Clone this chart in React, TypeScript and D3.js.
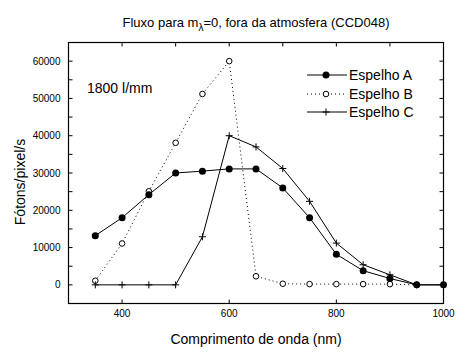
import { useEffect, useRef } from 'react';
import * as d3 from 'd3';

const wavelengths = [350, 400, 450, 500, 550, 600, 650, 700, 750, 800, 850, 900, 950, 1000];
const espelhoA = [13200, 18000, 24200, 30000, 30500, 31100, 31100, 26000, 18000, 8200, 3800, 1700, 0, 0];
const espelhoB = [1100, 11100, 25100, 38100, 51200, 60000, 2300, 300, 200, 200, 200, 200, 0];
const espelhoC = [0, 0, 0, 0, 12900, 40000, 37000, 31200, 22400, 11200, 5400, 2700, 0, 0];
const xTicks = [400, 600, 800, 1000];
const yTicks = [0, 10000, 20000, 30000, 40000, 50000, 60000];
const legendNames = ['Espelho A', 'Espelho B', 'Espelho C'];

const W = 472;
const H = 352;
const FONT = '"Liberation Sans", Arial, sans-serif';

export default function App() {
  const ref = useRef<SVGSVGElement | null>(null);
  useEffect(() => {
    const svg = d3.select(ref.current!);
    svg.selectAll('*').remove();
    svg.append('rect').attr('width', W).attr('height', H).attr('fill', '#fff');

    const x = d3.scaleLinear().domain([300, 1000]).range([68.5, 443.5]);
    const y = d3.scaleLinear().domain([-5000, 65000]).range([303.5, 42.5]);
    const [x0, x1] = x.range();
    const [yb, yt] = y.range();

    const g = svg.append('g').attr('font-family', FONT).attr('fill', '#000');

    // frame
    g.append('rect').attr('x', x0).attr('y', yt).attr('width', x1 - x0).attr('height', yb - yt)
      .attr('fill', 'none').attr('stroke', '#000').attr('stroke-width', 1.2);

    // ticks, all pointing inward
    const tl = 4;
    xTicks.forEach((t) => {
      g.append('line').attr('x1', x(t)).attr('x2', x(t)).attr('y1', yb).attr('y2', yb - tl).attr('stroke', '#000');
    });
    d3.range(400, 1000, 100).forEach((t) => {
      g.append('line').attr('x1', x(t)).attr('x2', x(t)).attr('y1', yt).attr('y2', yt + tl).attr('stroke', '#000');
    });
    d3.range(0, 65000, 5000).forEach((t) => {
      g.append('line').attr('x1', x0).attr('x2', x0 + tl).attr('y1', y(t)).attr('y2', y(t)).attr('stroke', '#000');
      g.append('line').attr('x1', x1).attr('x2', x1 - tl).attr('y1', y(t)).attr('y2', y(t)).attr('stroke', '#000');
    });

    // tick labels
    g.selectAll('.xl').data(xTicks).enter().append('text')
      .attr('x', (d) => x(d)).attr('y', yb + 13).attr('text-anchor', 'middle').attr('font-size', 10)
      .text((d) => String(d));
    g.selectAll('.yl').data(yTicks).enter().append('text')
      .attr('x', x0 - 8).attr('y', (d) => y(d) + 3.5).attr('text-anchor', 'end').attr('font-size', 10)
      .text((d) => String(d));

    // axis titles
    g.append('text').attr('x', (x0 + x1) / 2).attr('y', 344).attr('text-anchor', 'middle').attr('font-size', 14)
      .text('Comprimento de onda (nm)');
    g.append('text').attr('transform', `translate(25,${(yt + yb) / 2 + 9}) rotate(-90)`).attr('text-anchor', 'middle')
      .attr('font-size', 14).text('Fótons/pixel/s');

    // title
    const title = g.append('text').attr('x', 256).attr('y', 27).attr('text-anchor', 'middle').attr('font-size', 13);
    title.append('tspan').text('Fluxo para m');
    title.append('tspan').attr('dy', 4).attr('font-size', 10).text('λ');
    title.append('tspan').attr('dy', -4).text('=0, fora da atmosfera (CCD048)');

    g.append('text').attr('x', 87).attr('y', 93).attr('font-size', 14).text('1800 l/mm');

    const line = d3.line<[number, number]>().x((d) => x(d[0])).y((d) => y(d[1]));
    const seriesA = espelhoA.map((v, i) => [wavelengths[i], v] as [number, number]);
    const seriesB = espelhoB.map((v, i) => [wavelengths[i], v] as [number, number]);
    const seriesC = espelhoC.map((v, i) => [wavelengths[i], v] as [number, number]);

    g.append('path').attr('d', line(seriesC)).attr('fill', 'none').attr('stroke', '#000').attr('stroke-width', 1);
    g.append('path').attr('d', line(seriesA)).attr('fill', 'none').attr('stroke', '#000').attr('stroke-width', 1);
    g.append('path').attr('d', line(seriesB)).attr('fill', 'none').attr('stroke', '#000').attr('stroke-width', 1)
      .attr('stroke-dasharray', '1,3');

    const plus = (sel: d3.Selection<SVGGElement, unknown, null, undefined>, cx: number, cy: number) => {
      sel.append('path').attr('d', `M${cx - 3.5},${cy}H${cx + 3.5}M${cx},${cy - 3.5}V${cy + 3.5}`)
        .attr('stroke', '#000').attr('stroke-width', 1).attr('fill', 'none');
    };
    const dot = (sel: d3.Selection<SVGGElement, unknown, null, undefined>, cx: number, cy: number) => {
      sel.append('circle').attr('cx', cx).attr('cy', cy).attr('r', 3.5).attr('fill', '#000');
    };
    const ring = (sel: d3.Selection<SVGGElement, unknown, null, undefined>, cx: number, cy: number) => {
      sel.append('circle').attr('cx', cx).attr('cy', cy).attr('r', 2.8).attr('fill', '#fff')
        .attr('stroke', '#000').attr('stroke-width', 1);
    };

    const marks = g.append('g') as unknown as d3.Selection<SVGGElement, unknown, null, undefined>;
    seriesB.forEach((d) => ring(marks, x(d[0]), y(d[1])));
    seriesC.forEach((d) => plus(marks, x(d[0]), y(d[1])));
    seriesA.forEach((d) => dot(marks, x(d[0]), y(d[1])));

    // legend
    const lx0 = 307, lx1 = 347, lm = 326;
    const ly = [75, 94, 112];
    const drawers = [dot, ring, plus];
    legendNames.forEach((name, i) => {
      const ln = marks.append('line').attr('x1', lx0).attr('x2', lx1).attr('y1', ly[i]).attr('y2', ly[i])
        .attr('stroke', '#000').attr('stroke-width', 1);
      if (i === 1) ln.attr('stroke-dasharray', '1,3');
      drawers[i](marks, lm, ly[i]);
      g.append('text').attr('x', lx1 + 2).attr('y', ly[i] + 5).attr('font-size', 14).text(name);
    });
  }, []);
  return (
    <svg ref={ref} width={W} height={H} style={{ position: 'absolute', left: 0, top: 0 }} />
  );
}
